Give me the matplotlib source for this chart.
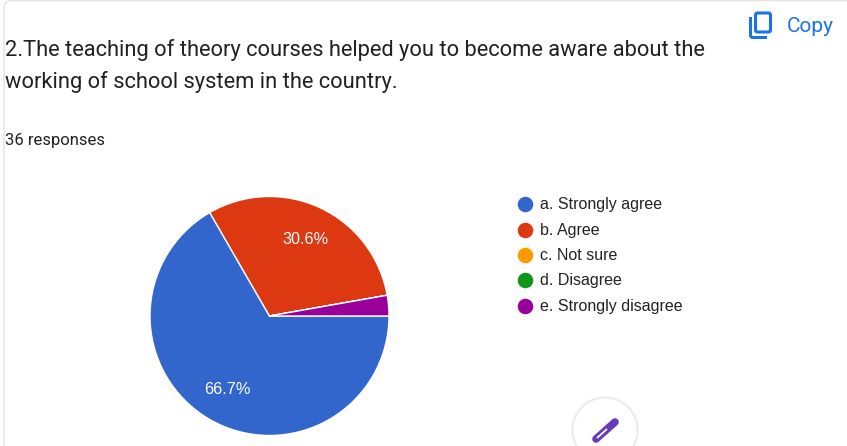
import matplotlib
matplotlib.use("Agg")
import matplotlib.pyplot as plt
from matplotlib.patches import Circle, FancyBboxPatch

categories = ["a. Strongly agree", "b. Agree", "c. Not sure", "d. Disagree", "e. Strongly disagree"]
counts = [24, 11, 0, 0, 1]
colors = ["#3366cc", "#dc3912", "#ff9900", "#109618", "#990099"]
title_lines = ["2.The teaching of theory courses helped you to become aware about the",
               "working of school system in the country."]
responses = "36 responses"

W, H = 847, 446
fig = plt.figure(figsize=(W / 100, H / 100), dpi=100)
ax = fig.add_axes([0, 0, 1, 1])
ax.set_xlim(0, W)
ax.set_ylim(H, 0)  # pixel coordinates, y pointing down
ax.axis("off")

# card border
ax.add_patch(FancyBboxPatch((4, 0.5), W + 40, H + 40, boxstyle="round,pad=0,rounding_size=8",
                            fc="white", ec="#e0e2e5", lw=1.0))

# header
for y, line in zip([50, 82], title_lines):
    ax.text(5, y, line, fontsize=15.78, family="Roboto", color="#202124", va="center", ha="left")
ax.text(5, 140, responses, fontsize=12, family="Roboto", color="#202124", va="center", ha="left")
ax.text(787, 26.5, "Copy", fontsize=15, family="Roboto", color="#1a73e8", va="center", ha="left")

# copy icon
ax.add_patch(FancyBboxPatch((755.5, 13), 15, 19, boxstyle="round,pad=0,rounding_size=2",
                            fc="none", ec="#1a73e8", lw=2.2))
ax.plot([750.5, 750.5, 752, 767], [17, 36, 37.5, 37.5], color="#1a73e8", lw=2.2,
        solid_capstyle="butt", solid_joinstyle="round")

# pie, y axis is inverted so counterclock runs clockwise on screen
wedges, texts, autotexts = ax.pie(
    counts, colors=colors, center=(269.5, 316), radius=119.5, startangle=0,
    autopct=lambda p: f"{p:.1f}%" if p > 5 else "", pctdistance=0.71,
    wedgeprops={"edgecolor": "white", "linewidth": 1.0},
    textprops={"color": "white", "fontsize": 11.7, "family": "Liberation Sans"},
    frame=True)
ax.set_xlim(0, W)
ax.set_ylim(H, 0)
ax.set_aspect("auto")
ax.axis("off")

# legend
legend_y = [204, 229.5, 255, 280, 305.5]
for name, col, y in zip(categories, colors, legend_y):
    ax.scatter([525], [y], s=125, color=col, linewidths=0, zorder=3)
    ax.text(540, y + 0.5, name, fontsize=11.55, family="Liberation Sans", color="#222222",
            va="center", ha="left")

# edit button
for r, a in [(34, 0.04), (33, 0.06)]:
    ax.add_patch(Circle((605, 430), r, fc="#000000", ec="none", alpha=a, zorder=4))
ax.add_patch(Circle((605, 430), 32, fc="white", ec="#ececec", lw=0.6, zorder=5))
ax.plot([596, 615], [439, 422], color="#673ab7", lw=5.5, solid_capstyle="round", zorder=6)
ax.plot([597, 607], [438, 429], color="white", lw=1.3, solid_capstyle="butt", zorder=7)

fig.savefig("out.png", dpi=100)
